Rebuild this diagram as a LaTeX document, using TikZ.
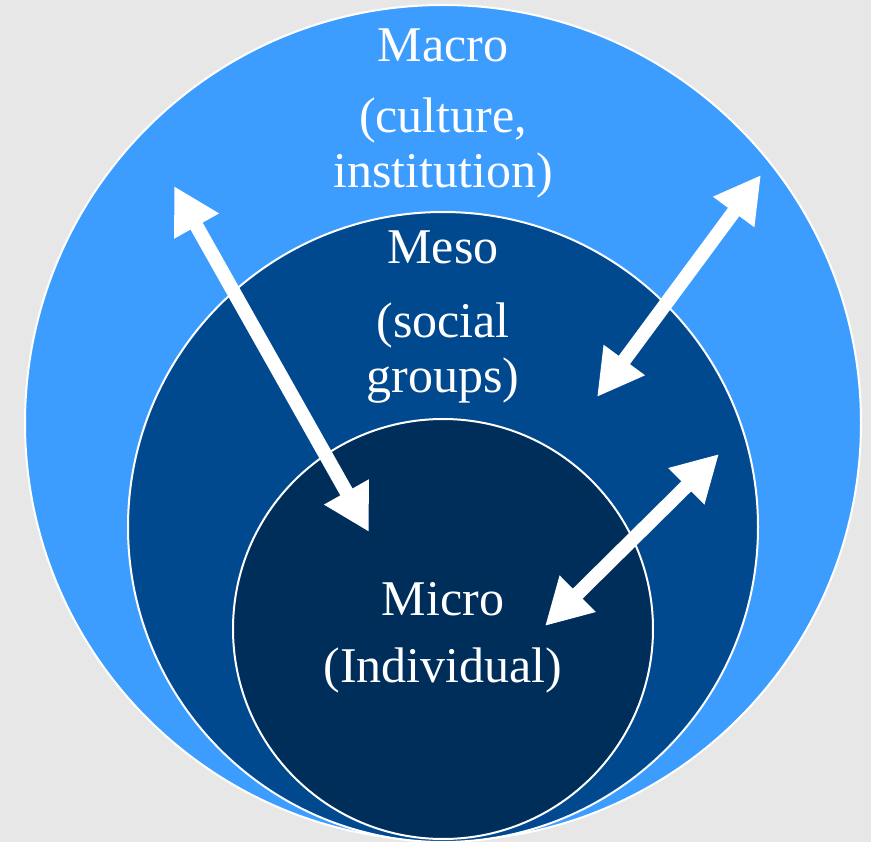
\documentclass[tikz,border=0pt]{standalone}
\usepackage{fontspec}
\setmainfont{Liberation Serif}
\usetikzlibrary{arrows.meta}
\definecolor{bgc}{RGB}{231,231,231}
\definecolor{macroc}{RGB}{61,157,255}
\definecolor{mesoc}{RGB}{0,73,143}
\definecolor{microc}{RGB}{0,46,91}
\tikzset{
  ring/.style={draw=white, line width=2pt},
  lbl/.style={text=white, font=\fontsize{50}{55}\selectfont, anchor=base, inner sep=0pt},
  dblarrow/.style={white, line width=14pt, {Triangle[width=48pt,length=46pt]}-{Triangle[width=48pt,length=46pt]}}
}
\begin{document}
\begin{tikzpicture}[x=1pt,y=-1pt]
\useasboundingbox (0,0) rectangle (871,842);
\fill[bgc] (0,0) rectangle (871,842);
\node[ring, fill=macroc, circle, minimum size=836pt, inner sep=0pt] (macro) at (443,423) {};
\node[ring, fill=mesoc, circle, minimum size=630pt, inner sep=0pt] (meso) at (443,527) {};
\node[ring, fill=microc, circle, minimum size=420pt, inner sep=0pt] (micro) at (443,629) {};
\node[lbl] (t1) at (443,62) {Macro};
\node[lbl] (t2) at (443,133) {(culture,};
\node[lbl] (t3) at (443,188) {institution)};
\node[lbl] (t4) at (443,264) {Meso};
\node[lbl] (t5) at (443,338) {(social};
\node[lbl] (t6) at (443,393) {groups)};
\node[lbl] (t7) at (443,615) {Micro};
\node[lbl] (t8) at (443,682) {(Individual)};
\coordinate (a1s) at (174,186);
\coordinate (a1e) at (369,532);
\coordinate (a2s) at (761,175);
\coordinate (a2e) at (597,397);
\coordinate (a3s) at (719,454);
\coordinate (a3e) at (545,626);
\draw[dblarrow] (a1s) -- (a1e);
\draw[dblarrow] (a2s) -- (a2e);
\draw[dblarrow] (a3s) -- (a3e);
\end{tikzpicture}
\end{document}
